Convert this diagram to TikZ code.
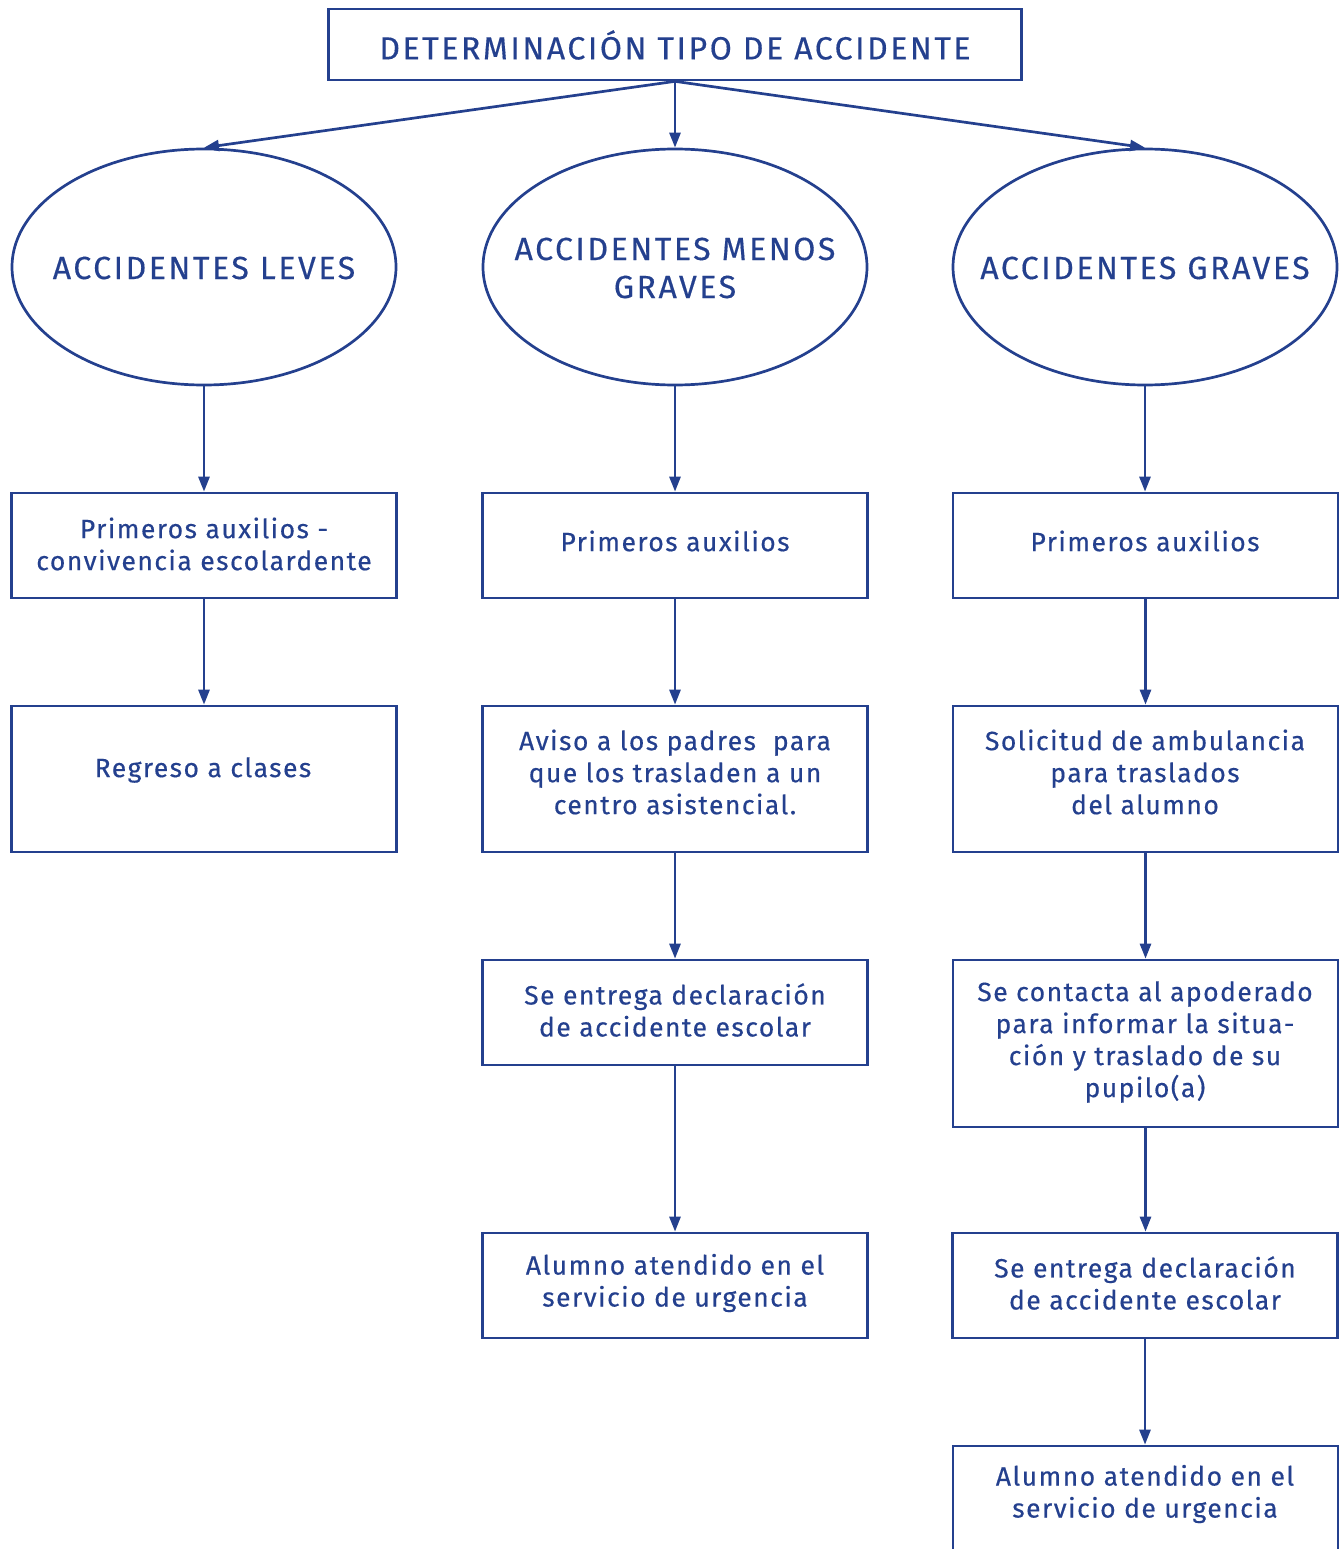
\documentclass[tikz,border=0pt]{standalone}
\usepackage{fontspec}
\setmainfont{Fira Sans}
\newfontfamily\bodyfont{Fira Sans}[LetterSpace=5.5,FakeBold=0.4]
\newfontfamily\capsfont{Fira Sans}[LetterSpace=8,FakeBold=0.4]
\usetikzlibrary{arrows.meta,shapes.geometric}
\definecolor{navy}{HTML}{24408E}
\begin{document}
\begin{tikzpicture}[x=1pt,y=-1pt,
  line width=2.7pt, draw=navy,
  boxn/.style={draw=navy, rectangle, inner sep=0pt, minimum width=385pt},
  elln/.style={draw=navy, ellipse, inner sep=0pt, minimum width=384pt, minimum height=236pt},
  txt/.style={text=navy, align=center, inner sep=0pt, font=\bodyfont\fontsize{26.5}{32}\selectfont},
  bigtxt/.style={text=navy, align=center, inner sep=0pt, font=\capsfont\fontsize{32}{38}\selectfont},
  arr/.style={navy, -{Triangle[length=15pt,width=11pt]}}]
\useasboundingbox (0,0) rectangle (1343,1549);
\clip (0,0) rectangle (1343,1549);
% top
\node[boxn, minimum width=693pt, minimum height=71pt] (top) at (675,44.5) {};
\node[bigtxt] (ttop) at (675,45) {DETERMINACIÓN TIPO DE ACCIDENTE};
% ellipses
\node[elln] (eL) at (204,267) {};
\node[elln] (eM) at (675,267) {};
\node[elln] (eR) at (1145,267) {};
\node[bigtxt] (teL) at (204,268) {ACCIDENTES LEVES};
\node[bigtxt] (teM) at (675,268) {ACCIDENTES MENOS\\GRAVES};
\node[bigtxt] (teR) at (1145,268) {ACCIDENTES GRAVES};
% row 1
\node[boxn, minimum height=105pt] (b1L) at (204,545.5) {};
\node[boxn, minimum height=105pt] (b1M) at (675,545.5) {};
\node[boxn, minimum height=105pt] (b1R) at (1145.5,545.5) {};
\node[txt] (t1L) at (204,544) {Primeros auxilios -\\convivencia escolardente};
\node[txt] (t1M) at (675,541) {Primeros auxilios};
\node[txt] (t1R) at (1145,541) {Primeros auxilios};
% row 2
\node[boxn, minimum height=146pt] (b2L) at (204,779) {};
\node[boxn, minimum height=146pt] (b2M) at (675,779) {};
\node[boxn, minimum height=146pt] (b2R) at (1145.5,779) {};
\node[txt] (t2L) at (203,770) {Regreso a clases};
\node[txt] (t2M) at (675,772) {Aviso a los padres \ para\\que los trasladen a un\\centro asistencial.};
\node[txt] (t2R) at (1145,772) {Solicitud de ambulancia\\para traslados\\del alumno};
% row 3
\node[boxn, minimum height=105pt] (b3M) at (675,1012.5) {};
\node[boxn, minimum height=167pt] (b3R) at (1145.5,1043.5) {};
\node[txt] (t3M) at (675,1010) {Se entrega declaración\\de accidente escolar};
\node[txt] (t3R) at (1145,1042) {Se contacta al apoderado\\para informar la situa-\\ción y traslado de su\\pupilo(a)};
% row 4
\node[boxn, minimum height=105pt] (b4M) at (675,1285.5) {};
\node[boxn, minimum height=105pt] (b4R) at (1145,1285.5) {};
\node[txt] (t4M) at (675,1283) {Alumno atendido en el\\servicio de urgencia};
\node[txt] (t4R) at (1145,1283) {Se entrega declaración\\de accidente escolar};
% row 5
\node[boxn, minimum height=106pt] (b5R) at (1145.5,1499) {};
\node[txt] (t5R) at (1145,1494) {Alumno atendido en el\\servicio de urgencia};
% connectors
\draw[arr] (top.south) -- (eL.north);
\draw[arr] (top.south) -- (eM.north);
\draw[arr] (top.south) -- (eR.north);
\draw[arr] (eL.south) -- (b1L.north);
\draw[arr] (eM.south) -- (b1M.north);
\draw[arr] (eR.south) -- (eR.south |- b1R.north);
\draw[arr] (b1L.south) -- (b2L.north);
\draw[arr] (b1M.south) -- (b2M.north);
\draw[arr] (b1R.south) -- (b2R.north);
\draw[arr] (b2M.south) -- (b3M.north);
\draw[arr] (b2R.south) -- (b3R.north);
\draw[arr] (b3M.south) -- (b4M.north);
\draw[arr] (b3R.south) -- (b3R.south |- b4R.north);
\draw[arr] (b4R.south) -- (b4R.south |- b5R.north);
\end{tikzpicture}
\end{document}
